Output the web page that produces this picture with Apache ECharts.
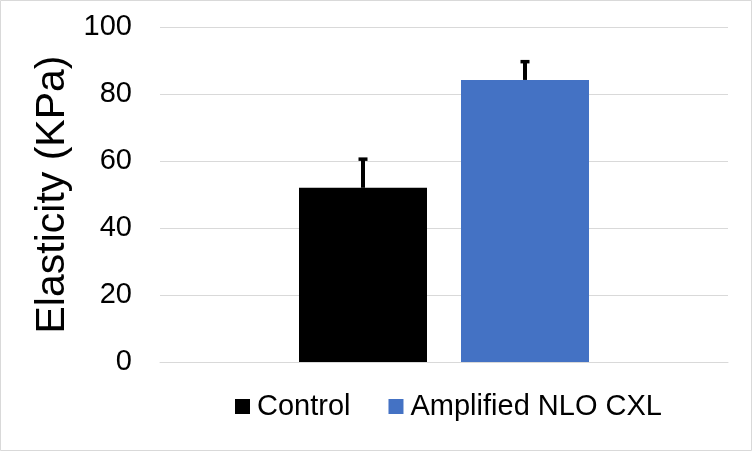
<!DOCTYPE html>
<html>
<head>
<meta charset="utf-8">
<script src="https://cdn.jsdelivr.net/npm/echarts@6/dist/echarts.min.js"></script>
<style>
html,body{margin:0;padding:0;background:#fff;}
#main{width:752px;height:451px;}
</style>
</head>
<body>
<div id="main"></div>
<script>
var categories = ['Elasticity'];
var seriesNames = ['Control', 'Amplified NLO CXL'];
var meanValues = [52, 84.2];
var errorValues = [9, 5.9];
var yTicks = [0, 20, 40, 60, 80, 100];
var colors = ['#000000', '#4472C4'];

var BAR_W = 128, BAR_GAP = 34;
var font = '"Liberation Sans", Arial, sans-serif';

var chart = echarts.init(document.getElementById('main'));

var series = [];
seriesNames.forEach(function (n, i) {
  series.push({
    name: n,
    type: 'bar',
    barWidth: BAR_W,
    barGap: (BAR_GAP / BAR_W * 100) + '%',
    itemStyle: { color: colors[i] },
    data: [meanValues[i]],
    z: 2
  });
});
seriesNames.forEach(function (n, i) {
  var dir = i === 0 ? -1 : 1;
  series.push({
    name: n + ' error',
    type: 'custom',
    z: 5,
    data: [[0, meanValues[i], errorValues[i]]],
    renderItem: function (params, api) {
      var off = dir * (BAR_W + BAR_GAP) / 2;
      var p0 = api.coord([api.value(0), api.value(1)]);
      var p1 = api.coord([api.value(0), api.value(1) + api.value(2)]);
      var x = p0[0] + off;
      var st = { stroke: '#000', lineWidth: 4 };
      return {
        type: 'group',
        children: [
          { type: 'line', shape: { x1: x, y1: p0[1], x2: x, y2: p1[1] + 1 }, style: st },
          { type: 'line', shape: { x1: x - 4.5, y1: p1[1] + 1.5, x2: x + 4.5, y2: p1[1] + 1.5 }, style: { stroke: '#000', lineWidth: 3.5 } }
        ]
      };
    }
  });
});

chart.setOption({
  animation: false,
  backgroundColor: '#fff',
  graphic: [{
    type: 'rect',
    shape: { x: 0.5, y: 0.5, width: 751, height: 450 },
    style: { fill: 'none', stroke: '#d9d9d9', lineWidth: 1 },
    silent: true
  }],
  grid: { left: 160, right: 24, top: 27, bottom: 89 },
  legend: {
    data: seriesNames.map(function (n) { return { name: n, icon: 'rect' }; }),
    left: 230,
    top: 387,
    itemWidth: 15,
    itemHeight: 15,
    itemGap: 38,
    textStyle: { fontFamily: font, fontSize: 29, color: '#000', padding: [0, 0, 0, 2] }
  },
  xAxis: {
    type: 'category',
    data: categories,
    axisLine: { lineStyle: { color: '#d9d9d9' } },
    axisTick: { show: false },
    axisLabel: { show: false }
  },
  yAxis: {
    type: 'value',
    min: yTicks[0],
    max: yTicks[yTicks.length - 1],
    interval: 20,
    name: 'Elasticity (KPa)',
    nameLocation: 'middle',
    nameGap: 82,
    nameTextStyle: { fontFamily: font, fontSize: 41, color: '#000' },
    axisLine: { show: false },
    axisTick: { show: false },
    axisLabel: { fontFamily: font, fontSize: 29, color: '#000', margin: 28 },
    splitLine: { lineStyle: { color: '#d9d9d9', width: 1 } }
  },
  series: series
});
</script>
</body>
</html>
